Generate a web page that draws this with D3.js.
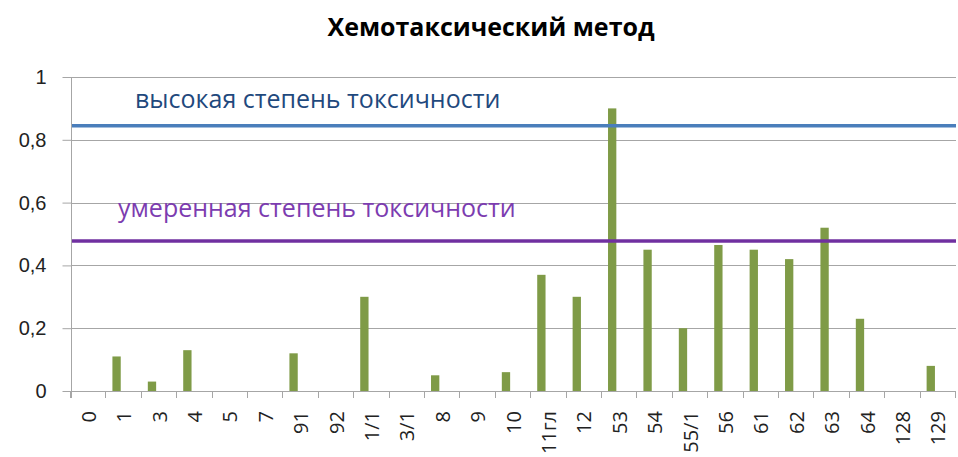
<!DOCTYPE html>
<html>
<head>
<meta charset="utf-8">
<script src="https://cdn.jsdelivr.net/npm/d3@7"></script>
<style>
  body { margin: 0; background: #fff; }
  svg { display: block; font-family: "Open Sans", sans-serif; }
</style>
</head>
<body>
<svg id="chart" width="958" height="457"></svg>
<script>
// data
const categories = ["0", "1", "3", "4", "5", "7", "91", "92", "1/1", "3/1", "8", "9", "10",
  "11гл", "12", "53", "54", "55/1", "56", "61", "62", "63", "64", "128", "129"];
const values = [0, 0.11, 0.03, 0.13, 0, 0, 0.12, 0, 0.3, 0, 0.05, 0, 0.06,
  0.37, 0.3, 0.9, 0.45, 0.2, 0.465, 0.45, 0.42, 0.52, 0.23, 0, 0.08];
const yTicks = [0, 0.2, 0.4, 0.6, 0.8, 1];
const levelNames = ["высокая степень токсичности", "умеренная степень токсичности"];
const levelValues = [0.845, 0.478];
const title = "Хемотаксический метод";

const svg = d3.select("#chart");
const margin = {top: 77, right: 2, bottom: 66, left: 71};
const width = 958 - margin.left - margin.right;
const height = 457 - margin.top - margin.bottom;

const x = d3.scaleBand().domain(categories).range([margin.left, margin.left + width]);
const y = d3.scaleLinear().domain([0, 1]).range([margin.top + height, margin.top]);

const ru = d3.formatLocale({decimal: ",", thousands: " ", grouping: [3], currency: ["", ""]});
const fmt = ru.format("~g");

// title
svg.append("text")
    .attr("x", 491)
    .attr("y", 36)
    .attr("text-anchor", "middle")
    .style("font-size", "25px")
    .style("font-weight", "bold")
    .style("fill", "#000")
    .text(title);

// gridlines
svg.append("g")
    .selectAll("line")
    .data(yTicks)
    .join("line")
    .attr("x1", margin.left)
    .attr("x2", margin.left + width)
    .attr("y1", d => Math.round(y(d)) + 0.5)
    .attr("y2", d => Math.round(y(d)) + 0.5)
    .attr("stroke", "#a6a6a6")
    .attr("stroke-width", 1);

// y axis
const yAxis = svg.append("g")
    .attr("transform", "translate(" + (margin.left + 0.5) + ",0)")
    .call(d3.axisLeft(y).tickValues(yTicks).tickFormat(fmt).tickSize(9).tickPadding(16));
yAxis.select(".domain").attr("stroke", "#a6a6a6").attr("d", "M0," + margin.top + "V" + (margin.top + height + 7));
yAxis.selectAll(".tick line").attr("stroke", "#a6a6a6");
yAxis.selectAll(".tick text")
    .style("font-size", "20px")
    .style("fill", "#222")
    .attr("font-family", null);

// x axis: labels at band centres, ticks at band boundaries
const x0 = margin.top + height;
svg.append("line")
    .attr("x1", margin.left).attr("x2", margin.left + width)
    .attr("y1", x0 + 0.5).attr("y2", x0 + 0.5)
    .attr("stroke", "#a6a6a6");
svg.append("g")
    .selectAll("line")
    .data(categories.concat([null]))
    .join("line")
    .attr("x1", d => Math.round(d === null ? x.range()[1] : x(d)) - 0.5)
    .attr("x2", d => Math.round(d === null ? x.range()[1] : x(d)) - 0.5)
    .attr("y1", x0)
    .attr("y2", x0 + 7)
    .attr("stroke", "#a6a6a6");
svg.append("g")
    .selectAll("text")
    .data(categories)
    .join("text")
    .attr("transform", d => "translate(" + (x(d) + x.bandwidth() / 2) + "," + (x0 + 20) + ") rotate(-90)")
    .attr("dy", "0.35em")
    .attr("text-anchor", "end")
    .style("font-size", "20px")
    .style("fill", "#222")
    .text(d => d);

// bars
const barOffset = x.bandwidth() * 0.17;
const barWidth = x.bandwidth() * 0.235;
svg.append("g")
    .selectAll("rect")
    .data(categories.map((c, i) => ({c: c, v: values[i]})).filter(d => d.v > 0))
    .join("rect")
    .attr("x", d => x(d.c) + barOffset)
    .attr("y", d => y(d.v))
    .attr("width", barWidth)
    .attr("height", d => y(0) - y(d.v))
    .attr("fill", "#7f9b47");

// toxicity levels
const levelColors = ["#4a7ebb", "#7030a0"];
const textColors = ["#1f497d", "#7c3cb0"];
svg.append("g")
    .selectAll("line")
    .data(levelValues)
    .join("line")
    .attr("x1", margin.left + 1)
    .attr("x2", margin.left + width)
    .attr("y1", d => y(d))
    .attr("y2", d => y(d))
    .attr("stroke", (d, i) => levelColors[i])
    .attr("stroke-width", 3.5);

const labelPos = [{x: 135, y: 108}, {x: 118, y: 217}];
svg.append("g")
    .selectAll("text")
    .data(levelNames)
    .join("text")
    .attr("x", (d, i) => labelPos[i].x)
    .attr("y", (d, i) => labelPos[i].y)
    .style("font-size", "25px")
    .style("fill", (d, i) => textColors[i])
    .text(d => d);
</script>
</body>
</html>
